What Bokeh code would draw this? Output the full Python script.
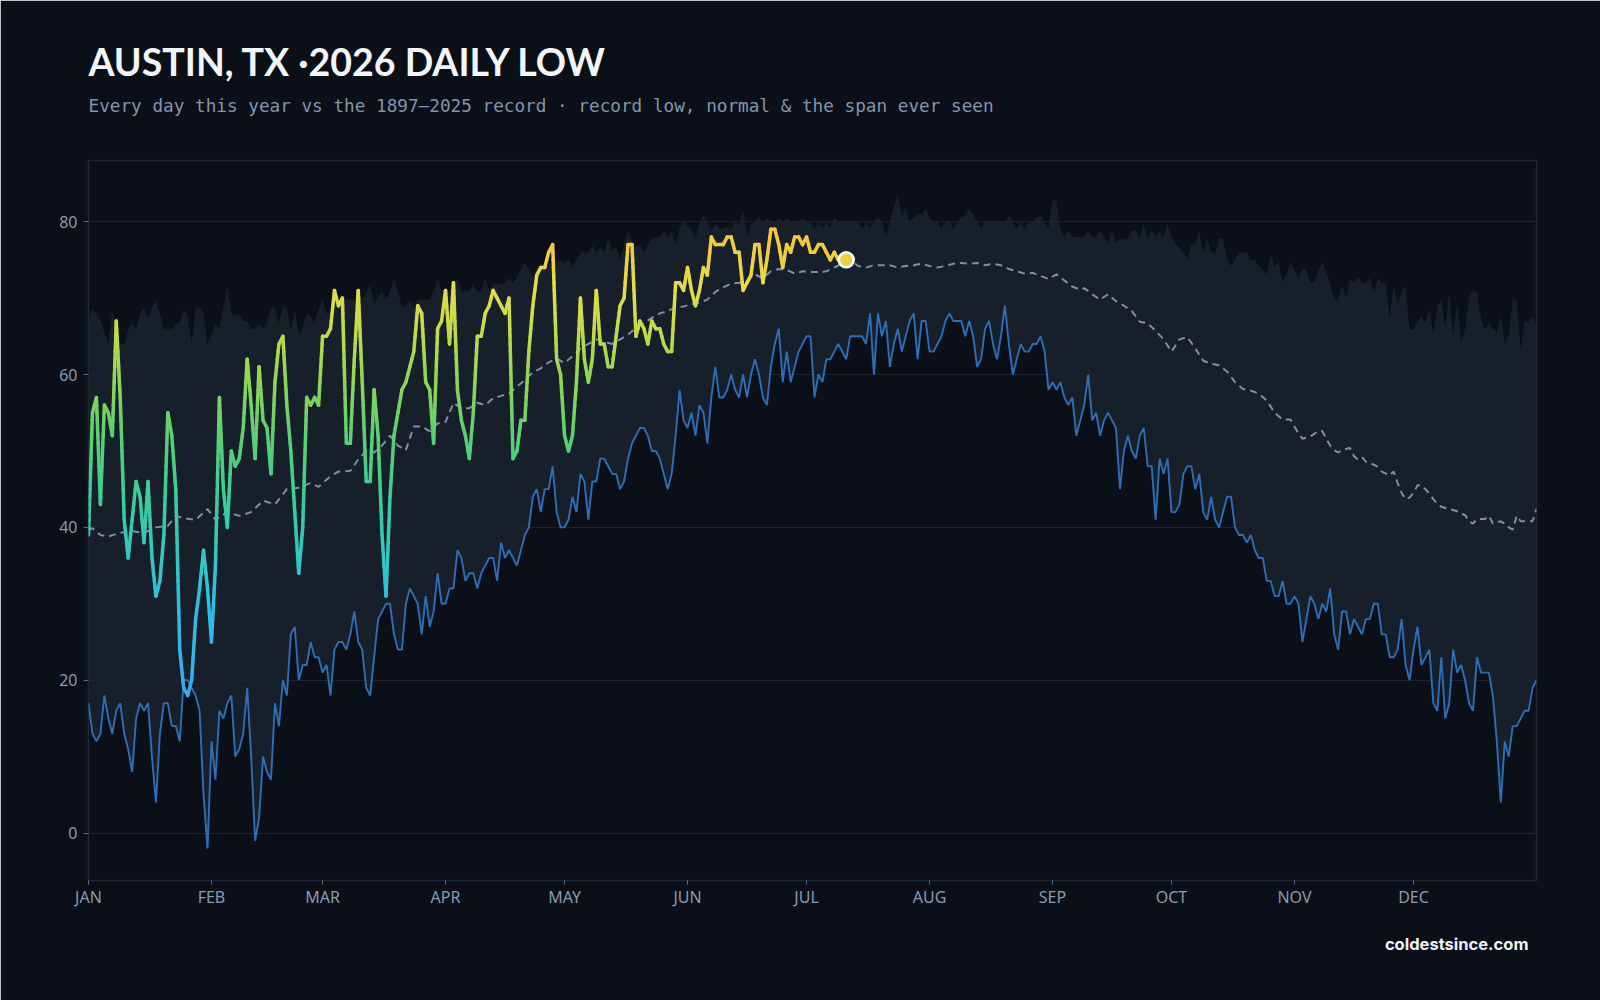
import math

from bokeh.plotting import figure
from bokeh.models import Range1d, Title, FixedTicker, ColumnDataSource
from bokeh.embed import file_html
from bokeh.resources import INLINE

# ---------------------------------------------------------------- data
month_names = ["JAN", "FEB", "MAR", "APR", "MAY", "JUN",
               "JUL", "AUG", "SEP", "OCT", "NOV", "DEC"]
month_starts = [0, 31, 59, 90, 120, 151, 181, 212, 243, 273, 304, 334]
y_ticks = [0, 20, 40, 60, 80]

# 2026 observed daily low (°F), Jan 1 .. Jul 11
obs_2026 = [
    39, 55, 57, 43, 56, 55, 52, 67, 57, 41,
    36, 41, 46, 44, 38, 46, 36, 31, 33, 39,
    55, 52, 45, 24, 19, 18, 20, 28, 32, 37,
    32, 25, 35, 57, 45, 40, 50, 48, 49, 53,
    62, 56, 49, 61, 54, 53, 47, 59, 64, 65,
    56, 50, 42, 34, 40, 57, 56, 57, 56, 65,
    65, 66, 71, 69, 70, 51, 51, 62, 71, 59,
    46, 46, 58, 52, 39, 31, 44, 52, 55, 58,
    59, 61, 63, 69, 68, 59, 58, 51, 66, 67,
    71, 64, 72, 58, 54, 52, 49, 55, 65, 65,
    68, 69, 71, 70, 69, 68, 70, 49, 50, 54,
    54, 63, 69, 73, 74, 74, 76, 77, 62, 60,
    52, 50, 52, 59, 70, 62, 59, 62, 71, 64,
    64, 61, 61, 65, 69, 70, 77, 77, 65, 67,
    66, 64, 67, 66, 66, 64, 63, 63, 72, 72,
    71, 74, 71, 69, 71, 74, 73, 78, 77, 77,
    77, 78, 78, 76, 76, 71, 72, 73, 77, 77,
    72, 75, 79, 79, 77, 74, 77, 76, 78, 78,
    77, 78, 76, 76, 77, 77, 76, 75, 76, 75,
    75, 75,
]

# 1897–2025 record low for each calendar day
record_low = [
    17, 13, 12, 13, 18, 15, 13, 16, 17, 13,
    11, 8, 15, 17, 16, 17, 10, 4, 13, 17,
    17, 14, 14, 12, 20, 20, 19, 18, 16, 5,
    -2, 12, 7, 16, 15, 17, 18, 10, 11, 13,
    19, 10, -1, 2, 10, 8, 7, 17, 14, 20,
    18, 26, 27, 20, 22, 22, 25, 23, 23, 21,
    22, 18, 24, 25, 25, 24, 26, 29, 25, 24,
    19, 18, 23, 28, 29, 30, 30, 26, 24, 24,
    30, 32, 31, 30, 26, 31, 27, 29, 34, 30,
    30, 32, 32, 37, 36, 33, 34, 34, 32, 34,
    35, 36, 36, 33, 38, 36, 37, 36, 35, 37,
    39, 40, 44, 45, 42, 45, 45, 48, 42, 40,
    40, 41, 44, 42, 47, 46, 41, 46, 46, 49,
    49, 48, 47, 47, 45, 46, 49, 51, 52, 53,
    53, 52, 50, 50, 49, 47, 45, 47, 52, 58,
    54, 53, 55, 52, 56, 55, 51, 57, 61, 57,
    57, 58, 60, 58, 57, 60, 57, 60, 62, 60,
    57, 56, 61, 64, 66, 59, 63, 59, 61, 63,
    64, 65, 65, 57, 60, 59, 62, 62, 63, 64,
    63, 62, 65, 65, 65, 65, 64, 68, 60, 68,
    65, 67, 61, 64, 66, 63, 65, 67, 68, 62,
    67, 67, 63, 63, 64, 65, 67, 68, 67, 67,
    67, 65, 67, 65, 61, 62, 66, 67, 64, 62,
    65, 69, 64, 60, 62, 64, 63, 63, 64, 64,
    65, 63, 58, 59, 58, 59, 57, 56, 57, 52,
    54, 56, 60, 54, 55, 52, 54, 55, 54, 53,
    45, 50, 52, 50, 49, 52, 53, 48, 48, 41,
    49, 47, 49, 42, 42, 43, 47, 48, 48, 45,
    47, 42, 41, 44, 41, 40, 42, 44, 44, 40,
    39, 39, 38, 39, 37, 36, 36, 33, 33, 31,
    31, 33, 30, 30, 31, 30, 25, 28, 31, 30,
    28, 30, 29, 32, 26, 24, 29, 29, 26, 28,
    27, 26, 28, 28, 30, 30, 26, 26, 23, 23,
    24, 28, 22, 20, 24, 27, 22, 23, 24, 17,
    16, 23, 15, 17, 24, 21, 22, 20, 17, 16,
    23, 21, 21, 21, 18, 12, 4, 12, 10, 14,
    14, 15, 16, 16, 19, 20,
]

# warmest daily low ever seen for each calendar day (top of the span)
record_warm_low = [
    67.4, 68.5, 68, 67, 65.5, 64, 68.6, 65.8, 64, 64,
    65.8, 66.7, 66, 68, 68.6, 67.4, 68.8, 69.6, 68, 66,
    66, 66, 66.7, 66.7, 68.6, 67.7, 64, 68.8, 68.8, 68,
    64, 65.2, 66.7, 66.1, 68.9, 71.7, 68, 67.8, 67.8, 67,
    67, 66, 66, 66.7, 66, 66.7, 68.8, 68.8, 66.7, 68.8,
    68.8, 65.8, 68.6, 65.2, 66, 68, 67.7, 66.7, 68.6, 69.8,
    68, 68, 69.8, 69.8, 69.8, 69.8, 69.8, 69.8, 70.8, 69.8,
    70.8, 71.7, 69.2, 70.1, 70.9, 69.8, 70.8, 72.6, 70.8, 68.9,
    68.9, 69.8, 68.9, 69.8, 69.8, 69.8, 69.8, 70.9, 72.7, 70.9,
    70.9, 70.9, 71.9, 72.6, 70.9, 70.9, 70.9, 71.9, 70.9, 70.9,
    72.7, 70.9, 71.9, 71.9, 71.9, 71.9, 72.7, 71.9, 72.7, 73.8,
    74.6, 73.8, 72.9, 73.8, 74.6, 73.8, 74.6, 74.5, 74.8, 75,
    74.6, 75, 74.2, 75, 76, 76, 76, 76.9, 76, 76.6,
    76, 77.7, 76.3, 76.6, 75.1, 76.9, 78.8, 77.5, 76.6, 76.9,
    76, 76.9, 77.9, 78, 78, 78.8, 77.9, 78.8, 77, 79.1,
    80, 79.4, 78.9, 77.9, 79.7, 80.8, 80, 78.9, 79.7, 79.1,
    79.1, 79.4, 79.1, 80, 79.7, 81.6, 78.2, 79.7, 80, 80.6,
    80, 80.6, 80, 80, 80.6, 80, 80.6, 80, 80, 80,
    80.6, 80, 80, 79.1, 80, 79.1, 80, 79.1, 80.6, 80,
    80, 80, 80, 80, 80, 79.1, 80, 79.1, 80, 80.6,
    80, 78.2, 80, 81.9, 83.6, 80.9, 81.7, 80, 80.6, 80.9,
    80.9, 81.7, 80.6, 80, 80, 79.1, 80, 80, 79.1, 80,
    80.6, 80.9, 81.7, 80.9, 80, 79.1, 80, 80, 80, 80,
    80, 80, 80.7, 80, 79.1, 80, 79.1, 80, 80, 80.6,
    80.7, 80, 79.1, 82.8, 82.8, 79.1, 78, 78.8, 78, 78,
    78, 78, 78.8, 78, 78, 78.8, 78, 77.2, 78.8, 77.2,
    77.8, 77.8, 77.8, 78.8, 78.8, 78, 79.7, 77.8, 78.8, 78,
    78.8, 78, 79.7, 78, 77, 76.6, 76, 75.1, 77, 77,
    78.7, 76, 77.8, 76, 76, 77.8, 77.8, 75.1, 74.2, 75.1,
    76, 76, 76, 75, 75, 74.2, 73.8, 73.1, 75.8, 74,
    74.8, 72.1, 73.1, 74.8, 73.8, 72.6, 73.8, 73.8, 72, 72,
    73.5, 74.8, 73.5, 72, 69.8, 69.8, 71.7, 70.1, 72.6, 72,
    72.7, 72, 72, 72.7, 70.8, 72.7, 71.9, 71.9, 67.4, 71.7,
    69.2, 70.9, 71.7, 65.9, 65.9, 66.9, 67.7, 66.7, 68.6, 65.2,
    69, 69.8, 66.1, 70.9, 65.2, 69.6, 64.1, 66.1, 70.1, 70.9,
    70.9, 67.4, 65.9, 66.7, 65.9, 65.5, 67.7, 64.1, 65.2, 69.8,
    69.6, 63.4, 66.9, 66.9, 67.7, 66.6,
]

# normal daily low
normal_days = [
    0, 1, 3, 5, 8, 11, 14, 17, 20, 22, 24, 27, 30, 32, 35, 38, 41, 44, 47, 50,
    53, 56, 58, 61, 63, 66, 68, 70, 72, 74, 76, 78, 80, 82, 84, 86, 88, 90, 92, 94,
    96, 98, 100, 102, 104, 106, 108, 110, 112, 114, 116, 118, 120, 122, 124, 126, 128, 130, 132, 134,
    136, 138, 140, 142, 144, 146, 148, 150, 152, 154, 156, 158, 160, 162, 164, 166, 168, 170, 172, 174,
    176, 178, 180, 182, 184, 186, 188, 190, 192, 194, 196, 198, 200, 202, 204, 206, 208, 210, 212, 214,
    216, 218, 220, 222, 224, 226, 228, 230, 232, 234, 236, 238, 240, 242, 244, 246, 248, 250, 251, 253,
    255, 257, 259, 261, 263, 265, 267, 269, 271, 273, 275, 277, 279, 281, 283, 285, 287, 289, 291, 293,
    295, 297, 299, 301, 303, 305, 306, 308, 310, 311, 312, 313, 314, 315, 316, 318, 319, 320, 321, 322,
    324, 325, 326, 328, 329, 330, 331, 332, 333, 334, 335, 336, 337, 338, 339, 340, 341, 343, 345, 346,
    347, 348, 349, 350, 352, 353, 354, 356, 357, 358, 359, 360, 361, 363, 364, 365,
]
normal_low = [
    39.6, 39.9, 39, 38.8, 39.3, 39.5, 39.3, 40, 40.2, 41.5, 41.2, 41, 42.4, 41, 42, 41.5, 42, 43.5, 43, 45,
    45.2, 45.8, 45.3, 46.7, 47.3, 47.4, 48.9, 50, 49.8, 50.7, 52, 50.7, 50.1, 53.2, 53.2, 52.6, 53.6, 53.8, 56.3, 55.6,
    55.6, 56.3, 56, 56.9, 57.2, 57.5, 58.4, 59.3, 60.3, 60.8, 61.6, 62.1, 61.5, 62.4, 63.4, 64, 64.6, 64.3, 64, 64.6,
    65.2, 66.1, 66.7, 67.4, 68, 68.3, 68.8, 68.9, 69.2, 69.4, 69.8, 70.8, 71.4, 71.9, 72, 72.3, 73.1, 72.6, 73.5, 73.8,
    73.7, 73.2, 73.5, 73.4, 73.4, 73.5, 74, 74.5, 75, 74.2, 74, 74.3, 74.3, 74.3, 74, 74.2, 74.3, 74.5, 74.2, 74,
    74.2, 74.5, 74.6, 74.5, 74.6, 74.3, 74.5, 74.3, 73.8, 73.5, 73.2, 73.3, 72.9, 72.5, 73.1, 72.3, 71.5, 71.1, 71.3, 70.5,
    69.8, 70.5, 69.6, 69, 68.3, 66.9, 66.7, 65.7, 64.6, 63, 64.6, 64.9, 63.4, 61.8, 61.4, 61.2, 60.4, 59, 58.1, 57.9,
    57.5, 56.6, 55, 54.1, 54.1, 52.3, 51.6, 51.9, 52.6, 52.6, 51.6, 50.7, 50.1, 49.8, 50.1, 50.4, 49.3, 48.9, 49.2, 48.6,
    48.2, 47.9, 47.3, 46.8, 47.3, 45.8, 44.5, 43.7, 43.9, 44.5, 45.5, 45.5, 45, 44.4, 43.7, 43.1, 42.7, 42.4, 42.1, 41.8,
    41.6, 40.8, 40.5, 41.1, 41.1, 41.5, 40.5, 40.8, 40.5, 40, 39.7, 41.5, 40.8, 40.8, 40.8, 42.4,
]

days = list(range(len(record_low)))
obs_days = list(range(len(obs_2026)))

title_text = "AUSTIN, TX ·2026 DAILY LOW"
subtitle_text = ("Every day this year vs the 1897–2025 record · "
                 "record low, normal & the span ever seen")
credit_text = "coldestsince.com"

# ---------------------------------------------------------------- styling
PAGE_BG = "#0b0f17"
BAND = "#161f2a"
GRID = "#1a2431"
FRAME = "#1e2a38"
TICK_TXT = "#8a9bb0"
RECORD_BLUE = "#2f6eb6"
NORMAL_GREY = "#7d90a8"

# colour ramp for the 2026 line, keyed on temperature
ramp = [
    (15, (58, 160, 234)),
    (22, (56, 176, 232)),
    (30, (50, 190, 224)),
    (38, (51, 201, 184)),
    (45, (61, 206, 146)),
    (52, (92, 207, 114)),
    (60, (150, 214, 84)),
    (66, (196, 220, 74)),
    (72, (230, 220, 72)),
    (78, (246, 198, 60)),
]


def ramp_color(t):
    if t <= ramp[0][0]:
        r, g, b = ramp[0][1]
    elif t >= ramp[-1][0]:
        r, g, b = ramp[-1][1]
    else:
        for (t0, c0), (t1, c1) in zip(ramp[:-1], ramp[1:]):
            if t0 <= t <= t1:
                f = (t - t0) / (t1 - t0)
                r, g, b = (round(c0[k] + (c1[k] - c0[k]) * f) for k in range(3))
                break
    return "#%02x%02x%02x" % (r, g, b)


W, H = 1600, 1000
FL, FR, FT, FB = 88, 1536, 160, 880

p = figure(
    width=W, height=H,
    x_range=Range1d(0, 365), y_range=Range1d(-6.2, 88),
    output_backend="svg", toolbar_location=None,
    min_border_left=FL, min_border_right=W - FR,
    min_border_top=FT, min_border_bottom=H - FB,
    background_fill_color=PAGE_BG, border_fill_color=PAGE_BG,
    outline_line_color=FRAME, outline_line_width=1.5,
)

# headings, stacked outward from the frame: gap, subtitle, title
p.add_layout(Title(text=" ", text_font_size="10px", standoff=30), "above")
p.add_layout(Title(text=subtitle_text, align="left",
                   text_font="DejaVu Sans Mono", text_font_style="normal",
                   text_font_size="17.7px", text_color="#8396ac",
                   standoff=4), "above")
p.title.text = title_text
p.title.align = "left"
p.title.text_font = "Lato"
p.title.text_font_size = "37.5px"
p.title.text_font_style = "bold"
p.title.text_color = "#f2f5f9"
p.title.standoff = 15

# credit below the axis
p.add_layout(Title(text=credit_text, align="right", text_font="Inter",
                   text_font_style="bold", text_font_size="16.5px",
                   text_color="#eef2f6", standoff=43, offset=8), "below")

# axes
p.xaxis.ticker = FixedTicker(ticks=month_starts)
p.xaxis.major_label_overrides = {d: m for d, m in zip(month_starts, month_names)}
p.yaxis.ticker = FixedTicker(ticks=y_ticks)
for ax in (p.xaxis[0], p.yaxis[0]):
    ax.axis_line_color = None
    ax.major_tick_line_color = "#5d6e84"
    ax.major_tick_in = 0
    ax.minor_tick_line_color = None
    ax.major_label_text_color = TICK_TXT
    ax.major_label_text_font = "Noto Sans"
    ax.major_label_text_font_size = "16px"
p.xaxis.major_tick_out = 4
p.xaxis.major_label_standoff = 1
p.yaxis.major_tick_out = 5
p.yaxis.major_label_standoff = 6

p.xgrid.visible = False
p.ygrid.ticker = FixedTicker(ticks=y_ticks)
p.ygrid.grid_line_color = GRID
p.ygrid.grid_line_width = 1.2

# span ever seen: record low up to warmest low
p.varea(x=days, y1=record_low, y2=record_warm_low,
        fill_color=BAND, level="image")

# normal
p.line(normal_days, normal_low, line_color=NORMAL_GREY, line_width=2,
       line_dash="7 5")

# record low
p.line(days, record_low, line_color=RECORD_BLUE, line_width=1.9)

# 2026, coloured along its height
x0s, y0s, x1s, y1s, cols = [], [], [], [], []
for i in range(len(obs_2026) - 1):
    xa, ya = obs_days[i], obs_2026[i]
    xb, yb = obs_days[i + 1], obs_2026[i + 1]
    n = max(1, int(math.ceil(abs(yb - ya) / 1.0)))
    for k in range(n):
        f0, f1 = k / n, (k + 1) / n
        sa = ya + (yb - ya) * f0
        sb = ya + (yb - ya) * f1
        x0s.append(xa + (xb - xa) * f0)
        x1s.append(xa + (xb - xa) * f1)
        y0s.append(sa)
        y1s.append(sb)
        cols.append(ramp_color((sa + sb) / 2))

seg_src = ColumnDataSource(dict(x0=x0s, y0=y0s, x1=x1s, y1=y1s, c=cols))
p.segment(x0="x0", y0="y0", x1="x1", y1="y1", line_color="c",
          line_width=3.5, line_cap="round", source=seg_src)

# latest reading
p.scatter([obs_days[-1]], [obs_2026[-1]], size=15, marker="circle",
          fill_color="#ecd04a", line_color="#ffffff", line_width=2.5)

open("out.html", "w").write(file_html(p, INLINE))
